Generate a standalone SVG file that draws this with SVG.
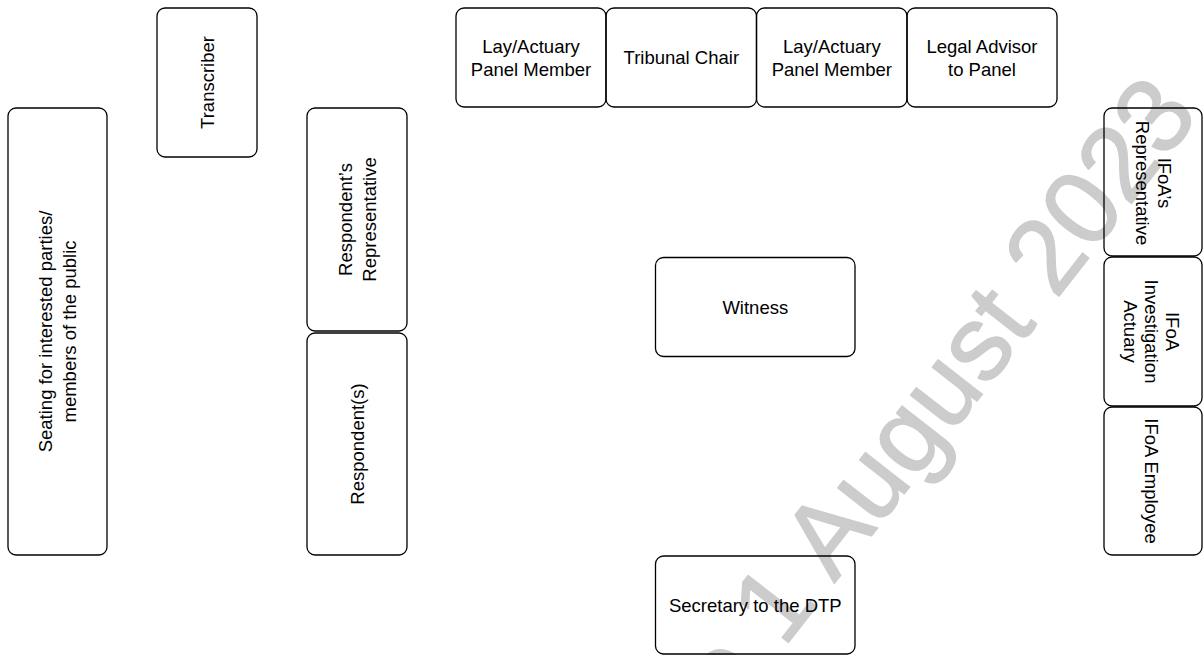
<svg xmlns="http://www.w3.org/2000/svg" width="1203" height="655" viewBox="0 0 1203 655">
<defs>
<style>
.box{fill:none;stroke:#000;stroke-width:1.3}
.t{font-family:"Liberation Sans",Arial,sans-serif;font-size:18.5px;fill:#000;text-anchor:middle}
.wm{font-family:"Liberation Sans",Arial,sans-serif;font-size:106px;fill:#cccccc;stroke:#cccccc;stroke-width:1.5;stroke-linejoin:round;text-anchor:middle}
</style>
</defs>
<rect width="1203" height="655" fill="#fff"/>
<g id="watermark">
<text class="wm" transform="translate(935,393) rotate(-52)" y="38">e 1 August 2023</text>
</g>
<g id="connectors"></g>
<g id="seating">
<rect class="box" x="8" y="108" width="99" height="447" rx="8"/>
<g transform="translate(57.5,331.5) rotate(-90)"><text class="t" y="-5.4">Seating for interested parties/</text><text class="t" y="18.6">members of the public</text></g>
</g>
<g id="transcriber">
<rect class="box" x="157" y="8" width="100" height="149" rx="8"/>
<g transform="translate(207,82.5) rotate(-90)"><text class="t" y="6.6">Transcriber</text></g>
</g>
<g id="respondents-rep">
<rect class="box" x="307" y="108" width="100" height="223" rx="8"/>
<g transform="translate(357,219.5) rotate(-90)"><text class="t" y="-5.4">Respondent’s</text><text class="t" y="18.6">Representative</text></g>
</g>
<g id="respondents">
<rect class="box" x="307" y="333" width="100" height="222" rx="8"/>
<g transform="translate(357,444) rotate(-90)"><text class="t" y="6.6">Respondent(s)</text></g>
</g>
<g id="panel-member-1">
<rect class="box" x="456" y="8" width="150" height="99" rx="8"/>
<text class="t" x="531" y="52.5">Lay/Actuary</text><text class="t" x="531" y="75.5">Panel Member</text>
</g>
<g id="tribunal-chair">
<rect class="box" x="606" y="8" width="150.5" height="99" rx="8"/>
<text class="t" x="681.3" y="64">Tribunal Chair</text>
</g>
<g id="panel-member-2">
<rect class="box" x="756.5" y="8" width="150.5" height="99" rx="8"/>
<text class="t" x="831.8" y="52.5">Lay/Actuary</text><text class="t" x="831.8" y="75.5">Panel Member</text>
</g>
<g id="legal-advisor">
<rect class="box" x="907" y="8" width="150" height="99" rx="8"/>
<text class="t" x="982" y="52.5">Legal Advisor</text><text class="t" x="982" y="75.5">to Panel</text>
</g>
<g id="witness">
<rect class="box" x="655.5" y="257.5" width="199.5" height="99" rx="8"/>
<text class="t" x="755.3" y="313.5">Witness</text>
</g>
<g id="secretary">
<rect class="box" x="655.5" y="556" width="199.5" height="98" rx="8"/>
<text class="t" x="755.3" y="611.5">Secretary to the DTP</text>
</g>
<g id="ifoa-rep">
<rect class="box" x="1104" y="108" width="98" height="148" rx="8"/>
<g transform="translate(1153,183) rotate(90)"><text class="t" y="-4.5">IFoA’s</text><text class="t" y="17.5">Representative</text></g>
</g>
<g id="ifoa-actuary">
<rect class="box" x="1104" y="257" width="98" height="149" rx="8"/>
<g transform="translate(1151.5,331.5) rotate(90)"><text class="t" y="-14.5">IFoA</text><text class="t" y="6.6">Investigation</text><text class="t" y="27.7">Actuary</text></g>
</g>
<g id="ifoa-employee">
<rect class="box" x="1104" y="407" width="98" height="148" rx="8"/>
<g transform="translate(1152,481) rotate(90)"><text class="t" y="6.6">IFoA Employee</text></g>
</g>
</svg>
